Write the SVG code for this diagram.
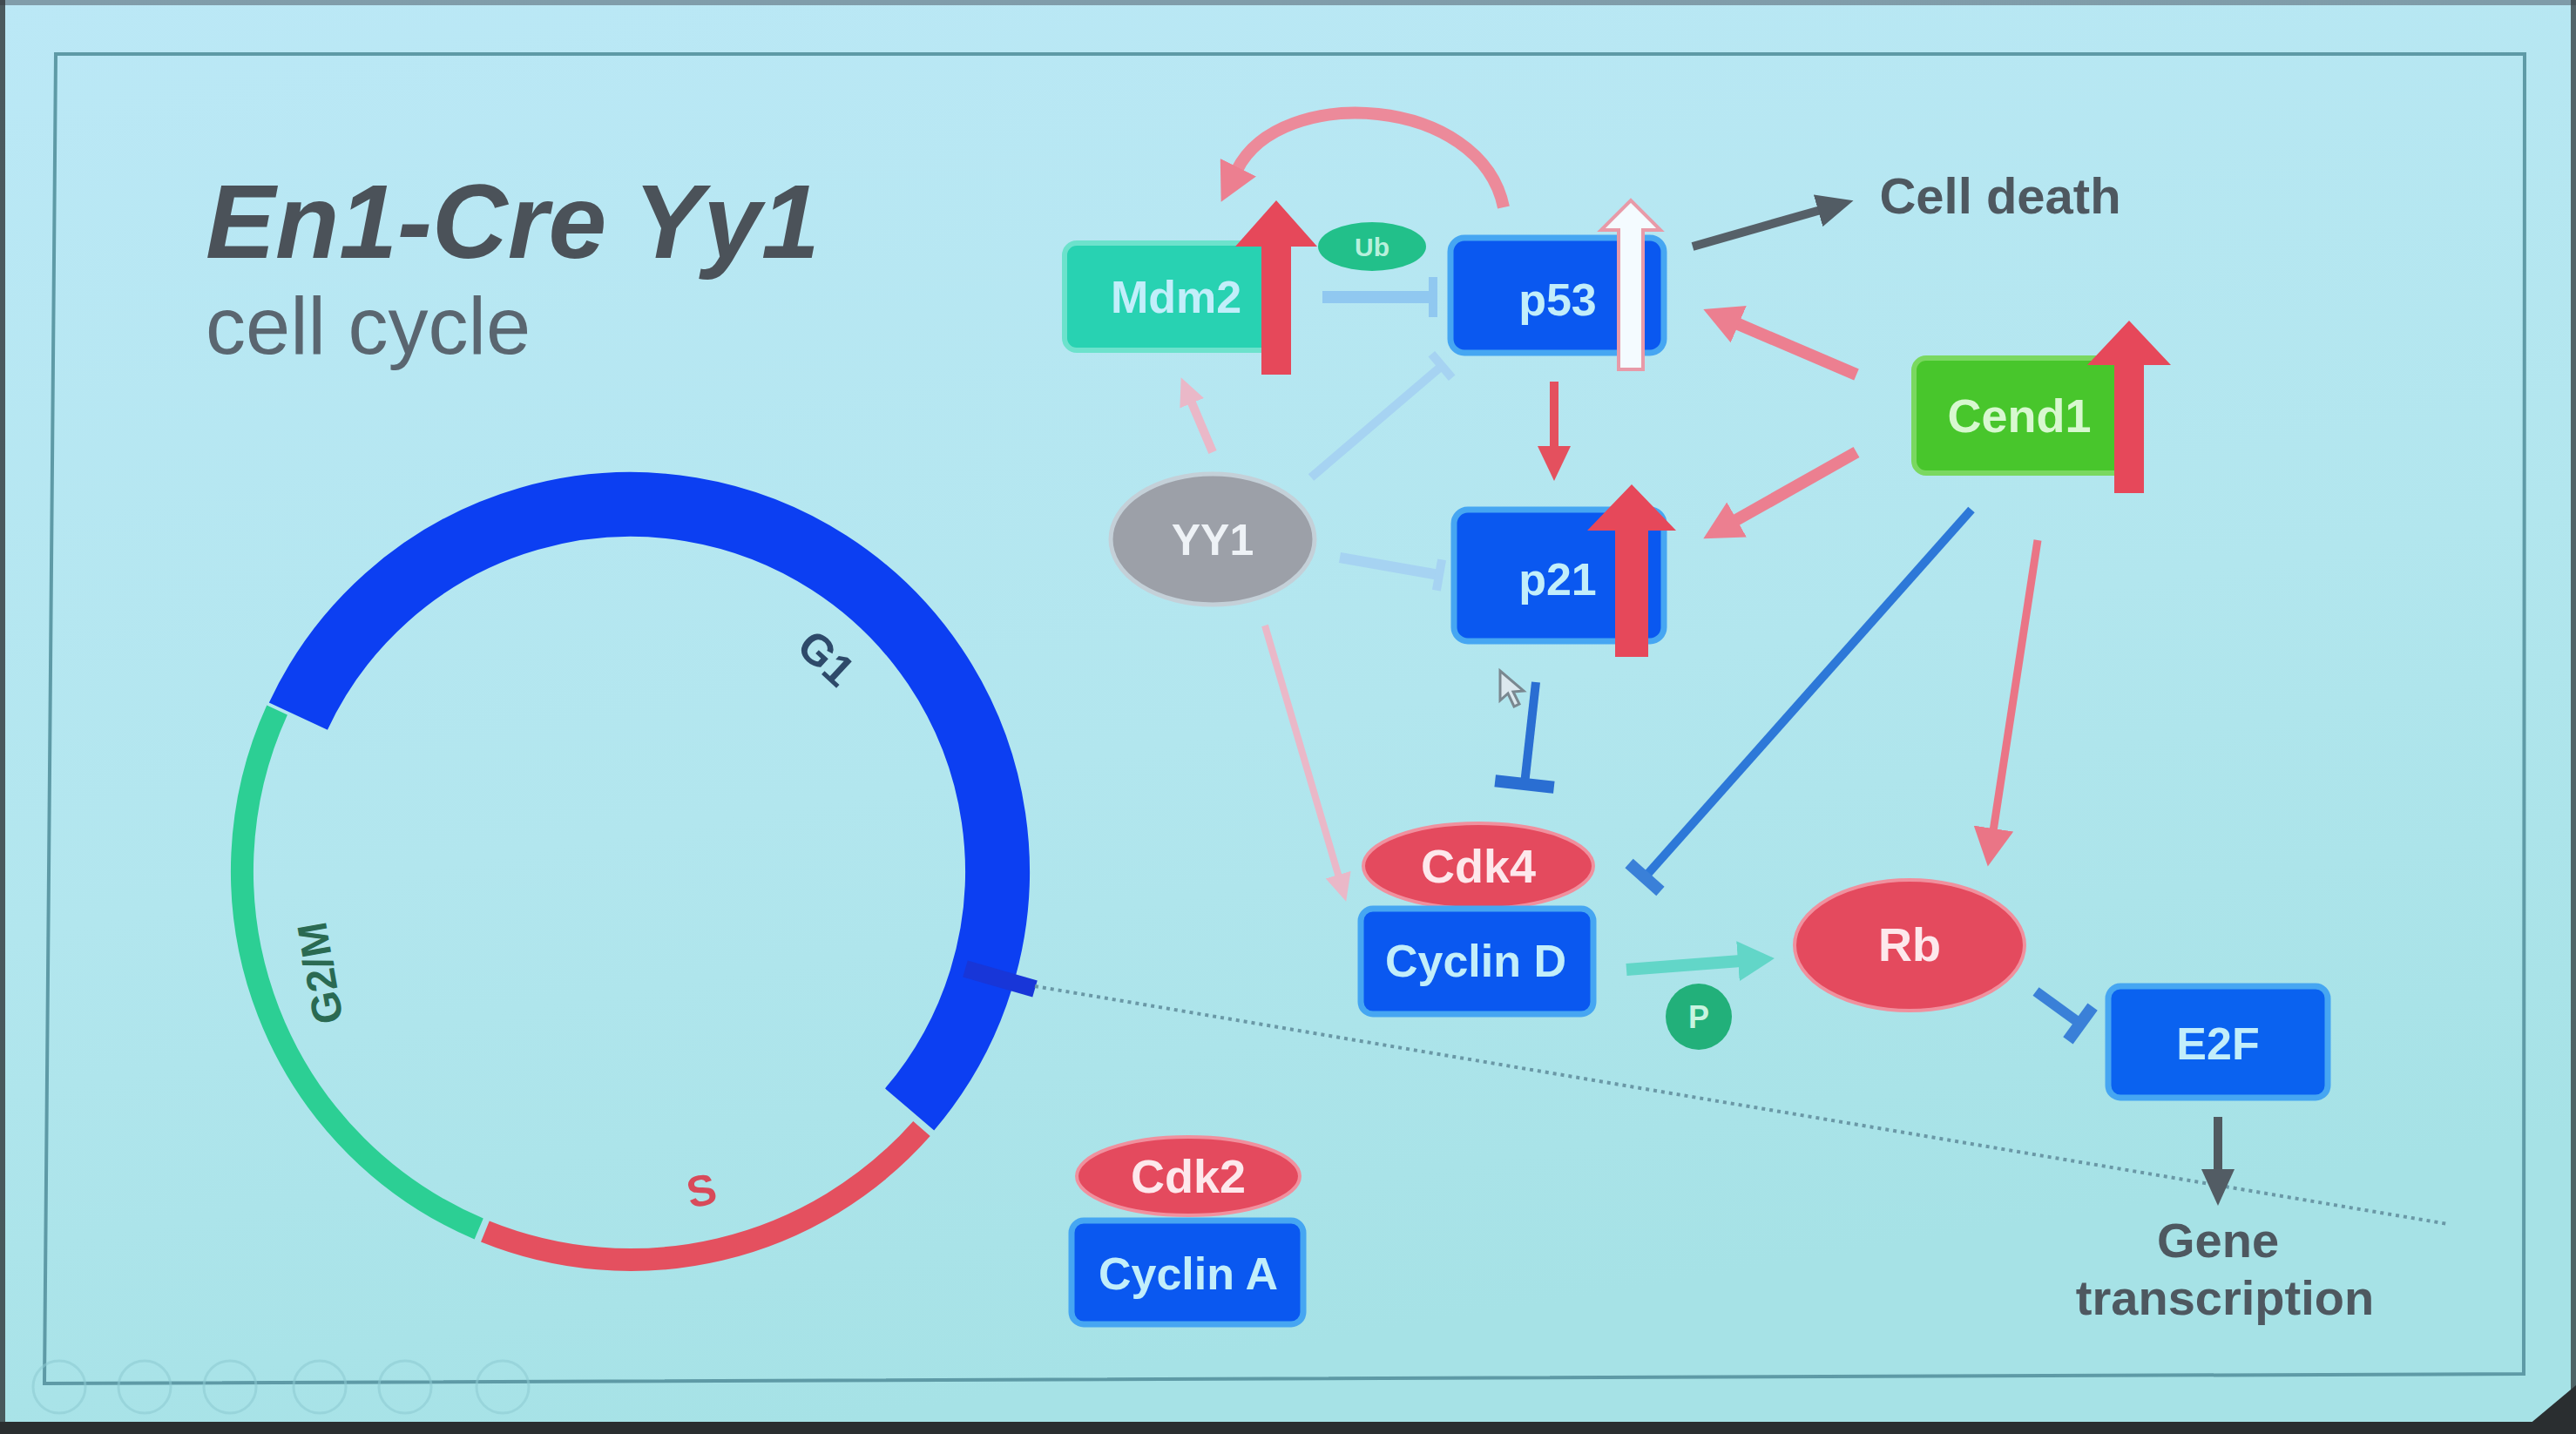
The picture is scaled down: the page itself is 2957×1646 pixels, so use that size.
<svg xmlns="http://www.w3.org/2000/svg" width="2957" height="1646" viewBox="0 0 2957 1646">
<defs>
<linearGradient id="bg" x1="0" y1="0" x2="0.3" y2="1">
<stop offset="0" stop-color="#bbe8f6"/>
<stop offset="0.6" stop-color="#b2e6ee"/>
<stop offset="1" stop-color="#a6e2e6"/>
</linearGradient>
<marker id="hPink" markerUnits="userSpaceOnUse" markerWidth="46" markerHeight="46" viewBox="0 0 46 46" refX="3" refY="23" orient="auto"><path d="M0,0 L44,23 L0,46 z" fill="#ec7f90"/></marker>
<marker id="hPinkC" markerUnits="userSpaceOnUse" markerWidth="46" markerHeight="46" viewBox="0 0 46 46" refX="3" refY="23" orient="auto"><path d="M0,0 L44,23 L0,46 z" fill="#ea7586"/></marker>
<marker id="hRed" markerUnits="userSpaceOnUse" markerWidth="40" markerHeight="38" viewBox="0 0 40 38" refX="3" refY="19" orient="auto"><path d="M0,0 L40,19 L0,38 z" fill="#e4505e"/></marker>
<marker id="hFaint" markerUnits="userSpaceOnUse" markerWidth="32" markerHeight="30" viewBox="0 0 32 30" refX="3" refY="15" orient="auto"><path d="M0,0 L32,15 L0,30 z" fill="#eab8c8"/></marker>
<marker id="hGray" markerUnits="userSpaceOnUse" markerWidth="42" markerHeight="38" viewBox="0 0 42 38" refX="3" refY="19" orient="auto"><path d="M0,0 L42,19 L0,38 z" fill="#525c64"/></marker>
<marker id="hTeal" markerUnits="userSpaceOnUse" markerWidth="42" markerHeight="46" viewBox="0 0 42 46" refX="3" refY="23" orient="auto"><path d="M0,0 L42,23 L0,46 z" fill="#62d6c8"/></marker>
<marker id="tBlue" markerUnits="userSpaceOnUse" markerWidth="16" markerHeight="70" viewBox="-8 -35 16 70" refX="0" refY="0" orient="auto"><rect x="-7" y="-34" width="14" height="68" fill="#2a6ed2"/></marker>
<marker id="tBlueS" markerUnits="userSpaceOnUse" markerWidth="16" markerHeight="50" viewBox="-8 -25 16 50" refX="0" refY="0" orient="auto"><rect x="-7" y="-24" width="14" height="48" fill="#3a80d8"/></marker>
<marker id="tLight" markerUnits="userSpaceOnUse" markerWidth="14" markerHeight="50" viewBox="-7 -25 14 50" refX="0" refY="0" orient="auto"><rect x="-5" y="-23" width="10" height="46" fill="#90c8f0"/></marker>
<marker id="tFaint" markerUnits="userSpaceOnUse" markerWidth="14" markerHeight="40" viewBox="-7 -20 14 40" refX="0" refY="0" orient="auto"><rect x="-5" y="-18" width="10" height="36" fill="#a6d3f2"/></marker>
</defs>
<style>
.lbl{font-family:"Liberation Sans",Arial,sans-serif;font-weight:bold;text-anchor:middle}
.bt{fill:#c2eefa;font-size:52px}
.rt{fill:#fde8ec;font-size:54px}
.bbox{fill:#0a58f0;stroke:#46a6f2;stroke-width:7}
.rell{fill:#e44a5e;stroke:#f0909e;stroke-width:4}
.up{fill:#e6485a}
.dark{fill:#4e5860;font-family:"Liberation Sans",Arial,sans-serif;font-weight:bold;text-anchor:middle}
</style>
<rect x="0" y="0" width="2957" height="1646" fill="url(#bg)"/>
<rect x="0" y="0" width="2957" height="6" fill="#5a6a78" opacity="0.6"/>
<rect x="0" y="0" width="6" height="1646" fill="#303638" opacity="0.8"/>
<rect x="2951" y="0" width="6" height="1646" fill="#3a4446" opacity="0.8"/>
<rect x="0" y="1632" width="2957" height="14" fill="#2a2e30"/>
<polygon points="2957,1590 2957,1646 2890,1646" fill="#2a2e30"/>
<path d="M64,62 L2898,62 L2897,1577 L51,1588 Z" fill="none" stroke="#5e9aa6" stroke-width="4"/>
<g id="slide-icons" fill="none" stroke="#8ccad2" stroke-width="3" opacity="0.55">
<circle cx="68" cy="1592" r="30"/><circle cx="166" cy="1592" r="30"/><circle cx="264" cy="1592" r="30"/><circle cx="367" cy="1592" r="30"/><circle cx="465" cy="1592" r="30"/><circle cx="577" cy="1592" r="30"/>
</g>
<g id="title">
<text x="236" y="296" font-family="Liberation Sans,Arial,sans-serif" font-weight="bold" font-style="italic" font-size="120" fill="#4b5259">En1-Cre Yy1</text>
<text x="236" y="406" font-family="Liberation Sans,Arial,sans-serif" font-size="92" fill="#5a6670">cell cycle</text>
</g>
<g id="cell-cycle">
<path d="M342.4,822.1 A421,421 0 1 1 1044.1,1273.4" fill="none" stroke="#0c3ff2" stroke-width="74"/>
<path d="M1058.0,1295.5 A446,446 0 0 1 556.9,1413.5" fill="none" stroke="#e4505f" stroke-width="26"/>
<path d="M549.7,1410.5 A446,446 0 0 1 318.1,815.0" fill="none" stroke="#2ccf94" stroke-width="26"/>
<line x1="1108" y1="1112" x2="1188" y2="1135" stroke="#1836d8" stroke-width="20"/>
<text x="947" y="772" font-family="Liberation Sans,Arial,sans-serif" font-weight="bold" font-size="50" fill="#2e4a6a" text-anchor="middle" transform="rotate(43 947 757)">G1</text>
<text x="368" y="1133" font-family="Liberation Sans,Arial,sans-serif" font-weight="bold" font-size="48" fill="#2a6a52" text-anchor="middle" transform="rotate(-100 368 1117)">G2/M</text>
<text x="805" y="1384" font-family="Liberation Sans,Arial,sans-serif" font-weight="bold" font-size="50" fill="#d84a5a" text-anchor="middle" transform="rotate(-12 805 1366)">S</text>
</g>
<line id="dotted-line" x1="1188" y1="1132" x2="2810" y2="1405" stroke="#6a98a6" stroke-width="4" stroke-dasharray="4 5"/>
<g id="connectors" fill="none" stroke-linecap="butt">
<path d="M1726,238 C1700,110 1470,95 1420,195" stroke="#ec8a9a" stroke-width="14" marker-end="url(#hPink)"/>
<line x1="1943" y1="283" x2="2090" y2="241" stroke="#566068" stroke-width="10" marker-end="url(#hGray)"/>
<line x1="1518" y1="341" x2="1645" y2="341" stroke="#90c8f0" stroke-width="14" marker-end="url(#tLight)"/>
<line x1="2131" y1="430" x2="1993" y2="371" stroke="#ec7f90" stroke-width="14" marker-end="url(#hPink)"/>
<line x1="2131" y1="519" x2="1991" y2="598" stroke="#ec7f90" stroke-width="14" marker-end="url(#hPink)"/>
<line x1="1784" y1="438" x2="1784" y2="515" stroke="#e4505e" stroke-width="10" marker-end="url(#hRed)"/>
<line x1="1392" y1="519" x2="1367" y2="460" stroke="#eab8c8" stroke-width="10" marker-end="url(#hFaint)"/>
<line x1="1505" y1="548" x2="1655" y2="420" stroke="#a6d3f2" stroke-width="10" marker-end="url(#tFaint)"/>
<line x1="1538" y1="640" x2="1652" y2="660" stroke="#a6d3f2" stroke-width="12" marker-end="url(#tFaint)"/>
<line x1="1452" y1="718" x2="1537" y2="1007" stroke="#eab8c8" stroke-width="8" marker-end="url(#hFaint)"/>
<line x1="1763" y1="783" x2="1750" y2="900" stroke="#2a6ed2" stroke-width="10" marker-end="url(#tBlue)"/>
<line x1="2263" y1="585" x2="1888" y2="1007" stroke="#2d78d8" stroke-width="10" marker-end="url(#tBlueS)"/>
<line x1="2339" y1="620" x2="2288" y2="954" stroke="#ea7586" stroke-width="9" marker-end="url(#hPinkC)"/>
<line x1="1867" y1="1113" x2="1998" y2="1103" stroke="#62d6c8" stroke-width="14" marker-end="url(#hTeal)"/>
<line x1="2337" y1="1138" x2="2388" y2="1175" stroke="#3a80d8" stroke-width="12" marker-end="url(#tBlueS)"/>
<line x1="2546" y1="1282" x2="2546" y2="1345" stroke="#505a60" stroke-width="10" marker-end="url(#hGray)"/>
</g>
<g id="Mdm2">
<rect x="1222" y="279" width="240" height="123" rx="14" fill="#28d2b2" stroke="#6ce2cc" stroke-width="6"/>
<text class="lbl bt" x="1350" y="359" font-size="54" fill="#d4f8f4">Mdm2</text>
<polygon class="up" points="1448,430 1448,283 1418,283 1465,230 1512,283 1482,283 1482,430"/>
</g>
<g id="Ub">
<ellipse cx="1575" cy="283" rx="62" ry="28" fill="#22c08a"/>
<text class="lbl" x="1575" y="294" font-size="30" fill="#b8f0dc">Ub</text>
</g>
<g id="p53">
<rect class="bbox" x="1665" y="273" width="245" height="132" rx="16"/>
<text class="lbl bt" x="1788" y="362" font-size="54">p53</text>
<polygon points="1858,424 1858,264 1838,264 1872,230 1906,264 1886,264 1886,424" fill="#f4fbff" stroke="#e89aa8" stroke-width="4"/>
</g>
<g id="cell-death"><text class="dark" x="2296" y="245" font-size="58">Cell death</text></g>
<g id="Cend1">
<rect x="2197" y="411" width="245" height="132" rx="14" fill="#48c62c" stroke="#7ad860" stroke-width="6"/>
<text class="lbl" x="2318" y="496" font-size="54" fill="#d8f8d0">Cend1</text>
<polygon class="up" points="2427,566 2427,419 2396,419 2444,368 2492,419 2461,419 2461,566"/>
</g>
<g id="p21">
<rect class="bbox" x="1669" y="585" width="241" height="151" rx="16"/>
<text class="lbl bt" x="1788" y="683" font-size="54">p21</text>
<polygon class="up" points="1854,754 1854,609 1822,609 1873,556 1924,609 1892,609 1892,754"/>
</g>
<g id="YY1">
<ellipse cx="1392" cy="619" rx="117" ry="75" fill="#9ca0a8" stroke="#c4d0d8" stroke-width="5"/>
<text class="lbl" x="1392" y="637" font-size="50" fill="#eef2f6">YY1</text>
</g>
<g id="cursor">
<polygon points="1722,770 1722,804 1731,796 1738,811 1744,808 1737,794 1749,793" fill="#dce8ee" stroke="#7a8890" stroke-width="3"/>
</g>
<g id="Cdk4-CyclinD">
<ellipse class="rell" cx="1697" cy="994" rx="132" ry="49"/>
<text class="lbl rt" x="1697" y="1013">Cdk4</text>
<rect class="bbox" x="1562" y="1043" width="267" height="121" rx="14"/>
<text class="lbl bt" x="1694" y="1121" font-size="50">Cyclin D</text>
</g>
<g id="P">
<circle cx="1950" cy="1167" r="38" fill="#22b07a"/>
<text class="lbl" x="1950" y="1180" font-size="36" fill="#c8f4e0">P</text>
</g>
<g id="Rb">
<ellipse class="rell" cx="2192" cy="1085" rx="132" ry="75"/>
<text class="lbl rt" x="2192" y="1103" font-size="50">Rb</text>
</g>
<g id="E2F">
<rect x="2420" y="1132" width="252" height="128" rx="14" fill="#0a62f0" stroke="#46a6f2" stroke-width="7"/>
<text class="lbl bt" x="2546" y="1216" font-size="50">E2F</text>
</g>
<g id="gene-transcription">
<text class="dark" x="2546" y="1443" font-size="56">Gene</text>
<text class="dark" x="2554" y="1509" font-size="56">transcription</text>
</g>
<g id="Cdk2-CyclinA">
<ellipse class="rell" cx="1364" cy="1350" rx="128" ry="45"/>
<text class="lbl rt" x="1364" y="1369">Cdk2</text>
<rect class="bbox" x="1230" y="1401" width="266" height="119" rx="14"/>
<text class="lbl bt" x="1364" y="1480" font-size="50">Cyclin A</text>
</g>
</svg>
